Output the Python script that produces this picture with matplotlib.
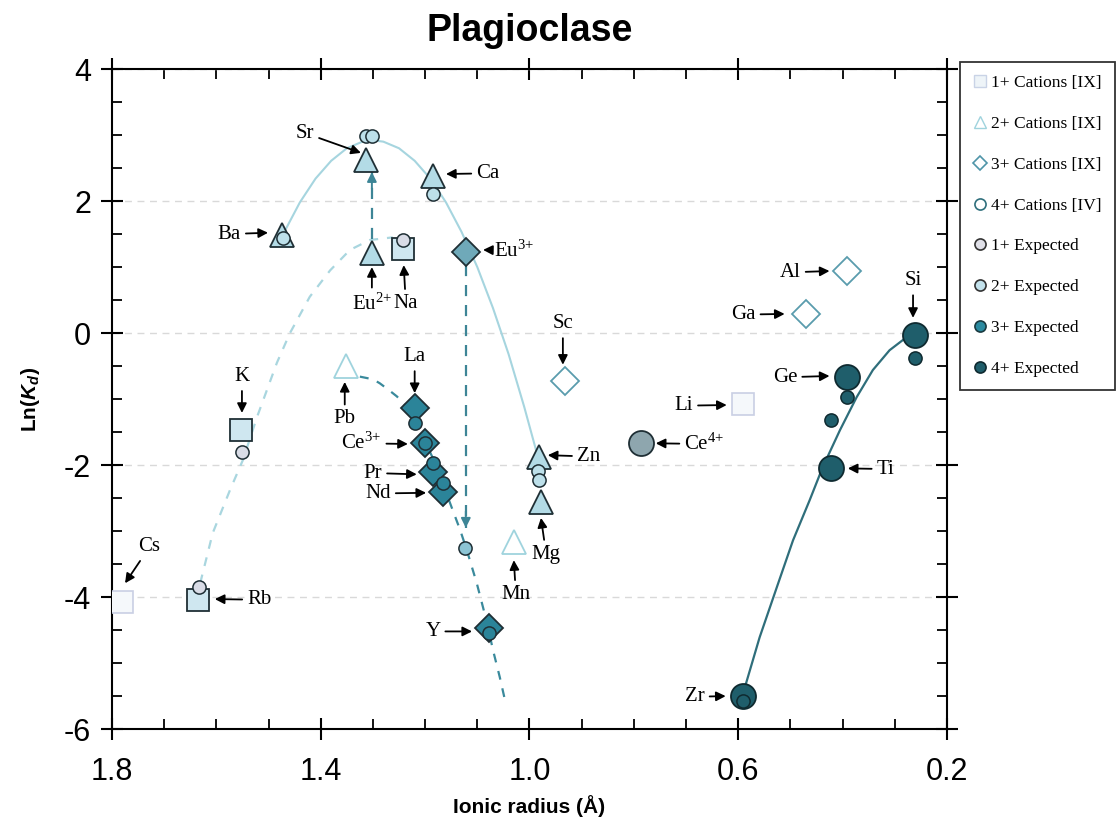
import matplotlib
matplotlib.use("Agg")
import matplotlib.pyplot as plt
from matplotlib.lines import Line2D
from matplotlib.ticker import MultipleLocator, FixedLocator, FuncFormatter

plt.rcParams['font.family'] = ['Liberation Sans', 'DejaVu Sans']
plt.rcParams['mathtext.fontset'] = 'custom'
plt.rcParams['mathtext.rm'] = 'Liberation Serif'
plt.rcParams['mathtext.it'] = 'Liberation Sans:italic:bold'
plt.rcParams['mathtext.bf'] = 'Liberation Sans:bold'

# ---------------- data ----------------
# 1+ cations [IX]
sq_names = ['Rb', 'K', 'Na']
sq_x = [1.635, 1.553, 1.243]
sq_y = [-4.05, -1.47, 1.27]
sq_open_names = ['Cs', 'Li']
sq_open_x = [1.781, 0.591]
sq_open_y = [-4.08, -1.08]

# 2+ cations [IX]
tri_names = ['Ba', 'Sr', 'Eu2+', 'Ca', 'Zn', 'Mg']
tri_x = [1.474, 1.313, 1.302, 1.185, 0.982, 0.978]
tri_y = [1.48, 2.62, 1.21, 2.38, -1.88, -2.56]
tri_open_names = ['Pb', 'Mn']
tri_open_x = [1.352, 1.030]
tri_open_y = [-0.50, -3.17]

# 3+ cations [IX]
dia_names = ['La', 'Ce3+', 'Pr', 'Nd', 'Y']
dia_x = [1.220, 1.200, 1.185, 1.166, 1.078]
dia_y = [-1.14, -1.67, -2.10, -2.41, -4.47]
eu3_x = [1.122]
eu3_y = [1.23]
dia_open_names = ['Sc', 'Al', 'Ga']
dia_open_x = [0.932, 0.392, 0.470]
dia_open_y = [-0.73, 0.94, 0.29]

# 4+ cations [IV]
c4_names = ['Si', 'Ge', 'Ti', 'Zr']
c4_x = [0.262, 0.392, 0.423, 0.591]
c4_y = [-0.03, -0.67, -2.05, -5.50]
ce4_x = [0.787]
ce4_y = [-1.67]

# expected values
exp1_x = [1.633, 1.551, 1.243]
exp1_y = [-3.85, -1.80, 1.41]
exp2_x = [1.313, 1.302, 1.472, 1.185, 0.984, 0.982]
exp2_y = [2.98, 2.98, 1.44, 2.10, -2.09, -2.23]
exp3_x = [1.220, 1.200, 1.185, 1.166, 1.078]
exp3_y = [-1.36, -1.67, -1.97, -2.27, -4.55]
exp_eu3_x = [1.124]
exp_eu3_y = [-3.26]
exp4_x = [0.262, 0.392, 0.423, 0.591]
exp4_y = [-0.38, -0.97, -1.32, -5.58]

# lattice-strain curves
curve1_x = [1.631, 1.607, 1.574, 1.549, 1.522, 1.484, 1.459, 1.421, 1.382, 1.344, 1.306, 1.262]
curve1_y = [-3.79, -3.03, -2.38, -1.92, -1.27, -0.45, 0.00, 0.55, 0.95, 1.26, 1.41, 1.45]
curve2_x = [1.47, 1.44, 1.41, 1.38, 1.35, 1.32, 1.30, 1.28, 1.25, 1.22, 1.19, 1.16, 1.13,
            1.10, 1.07, 1.04, 1.01, 0.982]
curve2_y = [1.53, 1.98, 2.34, 2.61, 2.80, 2.90, 2.92, 2.90, 2.80, 2.61, 2.34, 1.98, 1.53,
            1.00, 0.38, -0.32, -1.12, -1.93]
curve3_x = [1.325, 1.30, 1.287, 1.27, 1.254, 1.235, 1.21, 1.18, 1.152, 1.133, 1.12, 1.101,
            1.082, 1.070, 1.057, 1.047]
curve3_y = [-0.66, -0.70, -0.76, -0.86, -0.96, -1.12, -1.48, -1.98, -2.58, -2.98, -3.29,
            -3.79, -4.37, -4.80, -5.21, -5.56]
curve4_x = [0.587, 0.559, 0.526, 0.495, 0.463, 0.438, 0.405, 0.373, 0.342, 0.310, 0.277, 0.266]
curve4_y = [-5.36, -4.61, -3.85, -3.14, -2.53, -2.03, -1.47, -0.97, -0.56, -0.26, -0.06, 0.0]

# labels: text, text position, arrow tip
lab_text = ['Sr', 'Ca', 'Ba', r'Eu$^{3{+}}$', r'Eu$^{2{+}}$', 'Na', 'K', 'Pb', 'La', r'Ce$^{3{+}}$',
            'Pr', 'Nd', 'Y', 'Zn', 'Mg', 'Mn', 'Sc', 'Al', 'Ga', 'Si', 'Ge', 'Li',
            r'Ce$^{4{+}}$', 'Ti', 'Zr', 'Rb', 'Cs']
lab_tx = [1.430, 1.080, 1.575, 1.030, 1.302, 1.237, 1.551, 1.354, 1.220, 1.322,
          1.300, 1.290, 1.185, 0.887, 0.968, 1.026, 0.936, 0.500, 0.590, 0.265, 0.510, 0.704,
          0.665, 0.318, 0.683, 1.518, 1.728]
lab_ty = [3.03, 2.42, 1.50, 1.25, 0.45, 0.45, -0.66, -1.30, -0.36, -1.67,
          -2.12, -2.43, -4.52, -1.87, -3.35, -3.96, 0.14, 0.92, 0.28, 0.79, -0.67, -1.10,
          -1.68, -2.06, -5.51, -4.04, -3.24]
lab_ax = [1.323, 1.160, 1.501, 1.089, 1.302, 1.241, 1.551, 1.354, 1.220, 1.233,
          1.216, 1.198, 1.110, 0.965, 0.978, 1.030, 0.936, 0.425, 0.511, 0.265, 0.425, 0.622,
          0.758, 0.390, 0.624, 1.603, 1.775]
lab_ay = [2.73, 2.41, 1.52, 1.26, 1.00, 1.03, -1.21, -0.74, -0.91, -1.68,
          -2.14, -2.42, -4.52, -1.85, -2.80, -3.44, -0.48, 0.94, 0.29, 0.23, -0.65, -1.09,
          -1.67, -2.05, -5.50, -4.03, -3.79]

# Eu valence shift arrows (dashed)
eu_arrow_x = [1.302, 1.122]
eu_arrow_y0 = [1.42, 1.03]
eu_arrow_y1 = [2.44, -2.95]

# axis ticks
x_major = [1.8, 1.4, 1.0, 0.6, 0.2]
y_major = [-6, -4, -2, 0, 2, 4]

# ---------------- figure ----------------
fig = plt.figure(figsize=(11.2, 8.22), dpi=100)
ax = fig.add_axes([0.1, 0.113, 0.7455, 0.803])

edge = '#1f2f35'
c_sq = '#cfe7f0'
c_tri = '#b3dbe6'
c_dia = '#2b8499'
c_eu3 = '#6fa9b9'
c_4 = '#1f5e6b'
c_ce4 = '#8ea6ae'
c_exp1 = '#d9dce6'
c_exp2 = '#bde0ea'
c_exp3 = '#2b8499'
c_exp_eu3 = '#8cc4d4'
c_exp4 = '#1f5e6b'

# curves
ax.plot(curve1_x, curve1_y, ls=(0, (4, 4)), color='#a9d6df', lw=1.6, zorder=2)
ax.plot(curve2_x, curve2_y, ls='-', color='#a6d5df', lw=1.5, zorder=2)
ax.plot(curve3_x, curve3_y, ls=(0, (4, 4)), color='#3a8a9c', lw=1.6, zorder=2)
ax.plot(curve4_x, curve4_y, ls='-', color='#2f6e7b', lw=1.6, zorder=2)

# dashed Eu arrows
for x, y0, y1 in zip(eu_arrow_x, eu_arrow_y0, eu_arrow_y1):
    ax.plot([x, x], [y0, y1], ls=(0, (5, 4)), color='#3d8596', lw=1.6, zorder=2)
    d = 0.25 if y1 > y0 else -0.25
    ax.annotate('', xy=(x, y1), xytext=(x, y1 - d),
                arrowprops=dict(arrowstyle='-|>', color='#3d8596', lw=1.4,
                                mutation_scale=14, shrinkA=0, shrinkB=0), zorder=2)

# main markers
ax.plot(sq_open_x, sq_open_y, ls='none', marker='s', ms=16, mfc='#f5f8fb', mec='#c9cfe4',
        mew=1.2, zorder=3)
ax.plot(sq_x, sq_y, ls='none', marker='s', ms=16, mfc=c_sq, mec=edge, mew=1.3, zorder=3)
ax.plot(tri_open_x, tri_open_y, ls='none', marker='^', ms=17, mfc='white', mec='#9fd3dd',
        mew=1.3, zorder=3)
ax.plot(tri_x, tri_y, ls='none', marker='^', ms=17, mfc=c_tri, mec=edge, mew=1.3, zorder=3)
ax.plot(dia_open_x, dia_open_y, ls='none', marker='D', ms=14, mfc='white', mec='#5a9cad',
        mew=1.3, zorder=3)
ax.plot(dia_x, dia_y, ls='none', marker='D', ms=14, mfc=c_dia, mec=edge, mew=1.3, zorder=3)
ax.plot(eu3_x, eu3_y, ls='none', marker='D', ms=14, mfc=c_eu3, mec=edge, mew=1.3, zorder=3)
ax.plot(c4_x, c4_y, ls='none', marker='o', ms=18, mfc=c_4, mec='#0f2a30', mew=1.3, zorder=3)
ax.plot(ce4_x, ce4_y, ls='none', marker='o', ms=18, mfc=c_ce4, mec=edge, mew=1.3, zorder=3)

# expected markers
kw = dict(ls='none', marker='o', ms=9.5, mew=1.1, zorder=4)
ax.plot(exp1_x, exp1_y, mfc=c_exp1, mec=edge, **kw)
ax.plot(exp2_x, exp2_y, mfc=c_exp2, mec=edge, **kw)
ax.plot(exp3_x, exp3_y, mfc=c_exp3, mec=edge, **kw)
ax.plot(exp_eu3_x, exp_eu3_y, mfc=c_exp_eu3, mec=edge, **kw)
ax.plot(exp4_x, exp4_y, mfc=c_exp4, mec='#0f2a30', **kw)

# labels with arrows
for t, tx, ty, axx, ayy in zip(lab_text, lab_tx, lab_ty, lab_ax, lab_ay):
    ax.annotate(t, xy=(axx, ayy), xytext=(tx, ty), ha='center', va='center',
                fontsize=15, family=['Liberation Serif', 'DejaVu Serif'],
                arrowprops=dict(arrowstyle='-|>', color='black', lw=1.3,
                                mutation_scale=14, shrinkA=1.5, shrinkB=0),
                zorder=5)

# axes styling
ax.set_xlim(1.8, 0.2)
ax.set_ylim(-6, 4)
ax.xaxis.set_major_locator(FixedLocator(x_major))
ax.xaxis.set_minor_locator(MultipleLocator(0.1))
ax.yaxis.set_major_locator(FixedLocator(y_major))
ax.yaxis.set_minor_locator(MultipleLocator(0.5))
ax.xaxis.set_major_formatter(FuncFormatter(lambda v, p: '%.1f' % v))
ax.yaxis.set_major_formatter(FuncFormatter(lambda v, p: '%d' % round(v)))
ax.tick_params(which='major', direction='inout', length=16, width=1.5, labelsize=22,
               top=True, right=True)
ax.tick_params(axis='x', which='major', pad=12)
ax.tick_params(axis='y', which='major', pad=7)
ax.tick_params(which='minor', direction='in', length=7, width=1.3, top=True, right=True)
for s in ax.spines.values():
    s.set_linewidth(1.5)
ax.grid(axis='y', which='major', ls=(0, (5, 4)), color='#d9d9d9', lw=1.0, zorder=0)
ax.set_axisbelow(True)

ax.set_xlabel('Ionic radius (Å)', fontsize=15, fontweight='bold', labelpad=6)
ax.set_ylabel(r'Ln($K_d$)', fontsize=15, fontweight='bold', labelpad=16)
ax.set_title('Plagioclase', fontsize=27, fontweight='bold', pad=20)

# legend
leg_handles = [
    Line2D([], [], ls='none', marker='s', ms=8, mfc='#eef4f8', mec='#c9d3e6', mew=1.0),
    Line2D([], [], ls='none', marker='^', ms=8, mfc='white', mec='#9fd3dd', mew=1.0),
    Line2D([], [], ls='none', marker='D', ms=7, mfc='white', mec='#4f95a8', mew=1.2),
    Line2D([], [], ls='none', marker='o', ms=8, mfc='white', mec='#2f6f7c', mew=1.2),
    Line2D([], [], ls='none', marker='o', ms=8, mfc='#e0e0e8', mec='#333333', mew=1.2),
    Line2D([], [], ls='none', marker='o', ms=8, mfc='#c3e2ec', mec='#333333', mew=1.2),
    Line2D([], [], ls='none', marker='o', ms=8, mfc='#2a8aa0', mec='#1a3a40', mew=1.2),
    Line2D([], [], ls='none', marker='o', ms=8, mfc='#1f5d6a', mec='#0f2a30', mew=1.2),
]
leg_labels = ['1+ Cations [IX]', '2+ Cations [IX]', '3+ Cations [IX]', '4+ Cations [IV]',
              '1+ Expected', '2+ Expected', '3+ Expected', '4+ Expected']
leg = fig.legend(leg_handles, leg_labels, loc='upper left',
                 bbox_to_anchor=(960 / 1120, 1 - 62 / 822), bbox_transform=fig.transFigure,
                 prop={'family': 'Liberation Serif', 'size': 12.5}, frameon=True,
                 fancybox=False, edgecolor='black', labelspacing=1.42, borderpad=0.75,
                 handletextpad=0.25, handlelength=0.8, borderaxespad=0)
leg.get_frame().set_linewidth(1.3)

fig.savefig('out.png', dpi=100)
